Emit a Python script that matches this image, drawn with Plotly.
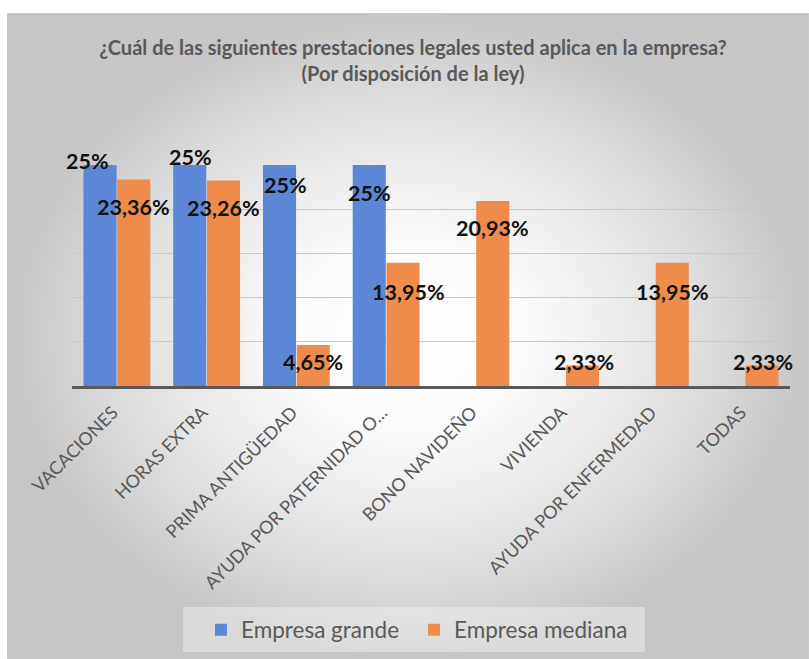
import plotly.graph_objects as go

categories = ["VACACIONES", "HORAS EXTRA", "PRIMA ANTIGÜEDAD", "AYUDA POR PATERNIDAD O…",
              "BONO NAVIDEÑO", "VIVIENDA", "AYUDA POR ENFERMEDAD", "TODAS"]
grande = [25, 25, 25, 25, None, None, None, None]
mediana = [23.36, 23.26, 4.65, 13.95, 20.93, 2.33, 13.95, 2.33]
grande_labels = ["25%", "25%", "25%", "25%", "", "", "", ""]
mediana_labels = ["23,36%", "23,26%", "4,65%", "13,95%", "20,93%", "2,33%", "13,95%", "2,33%"]

# label placement tweaks (pixels) mimicking the manually placed Excel labels
grande_dx = [-13, 1, 6, 0, 0, 0, 0, 0]
grande_dy = [4, 8, -20, -28, 0, 0, 0, 0]
mediana_dx = [0, 0, 0, 5, 0, 1, 0, 1]
mediana_dy = [-28, -28, -17, -29, -27, 3, -29, 3]

W, H = 809, 659
BLUE = "#5b87d6"
ORANGE = "#ef8c4c"
FONT = "Lato"

plot_x0, plot_x1 = 72, 790
plot_y_top, plot_y_bot = 165, 386
bargap = 0.248
bargroupgap = 0.02

fig = go.Figure()

# background radial gradient panel
fig.add_trace(go.Scatter(
    x=[0, 1, 1, 0, 0], y=[0, 0, 1, 1, 0], mode="lines", fill="toself",
    line=dict(color="#cccccc", width=1),
    fillgradient=dict(type="radial", colorscale=[[0, "#ffffff"], [0.3, "#fbfbfb"], [0.75, "#dcdcdc"], [1, "#c6c6c6"]]),
    hoverinfo="skip", showlegend=False, xaxis="x", yaxis="y"))

fig.add_trace(go.Bar(name="Empresa grande", x=categories, y=grande, marker_color=BLUE,
                     marker_line_width=0, xaxis="x2", yaxis="y2"))
fig.add_trace(go.Bar(name="Empresa mediana", x=categories, y=mediana, marker_color=ORANGE,
                     marker_line_width=0, xaxis="x2", yaxis="y2"))

cat_w = (plot_x1 - plot_x0) / len(categories)
off = cat_w * (1 - bargap) / 4

annotations = []
for i, c in enumerate(categories):
    if grande[i] is not None and grande_labels[i]:
        annotations.append(dict(x=c, y=grande[i], xref="x2", yref="y2", text=f"<b>{grande_labels[i]}</b>",
                                showarrow=False, xshift=-off + grande_dx[i], yshift=grande_dy[i],
                                yanchor="middle", xanchor="center",
                                font=dict(family=FONT, size=21.5, color="#111111")))
    if mediana[i] is not None:
        annotations.append(dict(x=c, y=mediana[i], xref="x2", yref="y2", text=f"<b>{mediana_labels[i]}</b>",
                                showarrow=False, xshift=off + mediana_dx[i], yshift=mediana_dy[i],
                                yanchor="middle", xanchor="center",
                                font=dict(family=FONT, size=21.5, color="#111111")))

fig.update_layout(
    width=W, height=H,
    margin=dict(l=0, r=0, t=0, b=0, autoexpand=False),
    paper_bgcolor="white", plot_bgcolor="rgba(0,0,0,0)",
    barmode="group", bargap=bargap, bargroupgap=bargroupgap,
    font=dict(family=FONT, color="#595959"),
    title=dict(text="<b>¿Cuál de las siguientes prestaciones legales usted aplica en la empresa?</b><br>"
                    "<b>(Por disposición de la ley)</b>",
               x=413 / W, xanchor="center", xref="paper", y=1 - 55 / H, yanchor="middle", yref="container",
               font=dict(family=FONT, size=20, color="#595959")),
    xaxis=dict(domain=[7 / W, 1], range=[0, 1], visible=False, fixedrange=True, automargin=False),
    yaxis=dict(domain=[0, 1 - 13 / H], range=[0, 1], visible=False, fixedrange=True, automargin=False),
    xaxis2=dict(domain=[plot_x0 / W, plot_x1 / W], anchor="y2", showline=True, linecolor="#595959",
                linewidth=3, ticks="", showgrid=False, tickangle=-45, automargin=False,
                range=[-0.5, len(categories) - 0.5], ticklabelstandoff=6, ticklabelshift=-4,
                tickfont=dict(family=FONT, size=18, color="#595959")),
    yaxis2=dict(domain=[1 - plot_y_bot / H, 1 - plot_y_top / H], anchor="x2", range=[0, 25], dtick=5,
                showticklabels=False, showgrid=True, gridcolor="#c8c8c8", gridwidth=1, automargin=False,
                zeroline=False, showline=False),
    legend=dict(orientation="h", x=414 / W, xanchor="center", y=1 - 630 / H, yanchor="middle",
                bgcolor="rgba(0,0,0,0)", font=dict(family=FONT, size=22.5, color="#595959"),
                itemwidth=30, entrywidth=168, borderwidth=0),
    shapes=[dict(type="rect", xref="paper", yref="paper", x0=183 / W, x1=645 / W,
                 y0=1 - 652 / H, y1=1 - 607 / H, layer="above",
                 fillcolor="rgba(255,255,255,0.35)", line=dict(width=0))],
    annotations=annotations,
)

fig.write_html("out.html")
